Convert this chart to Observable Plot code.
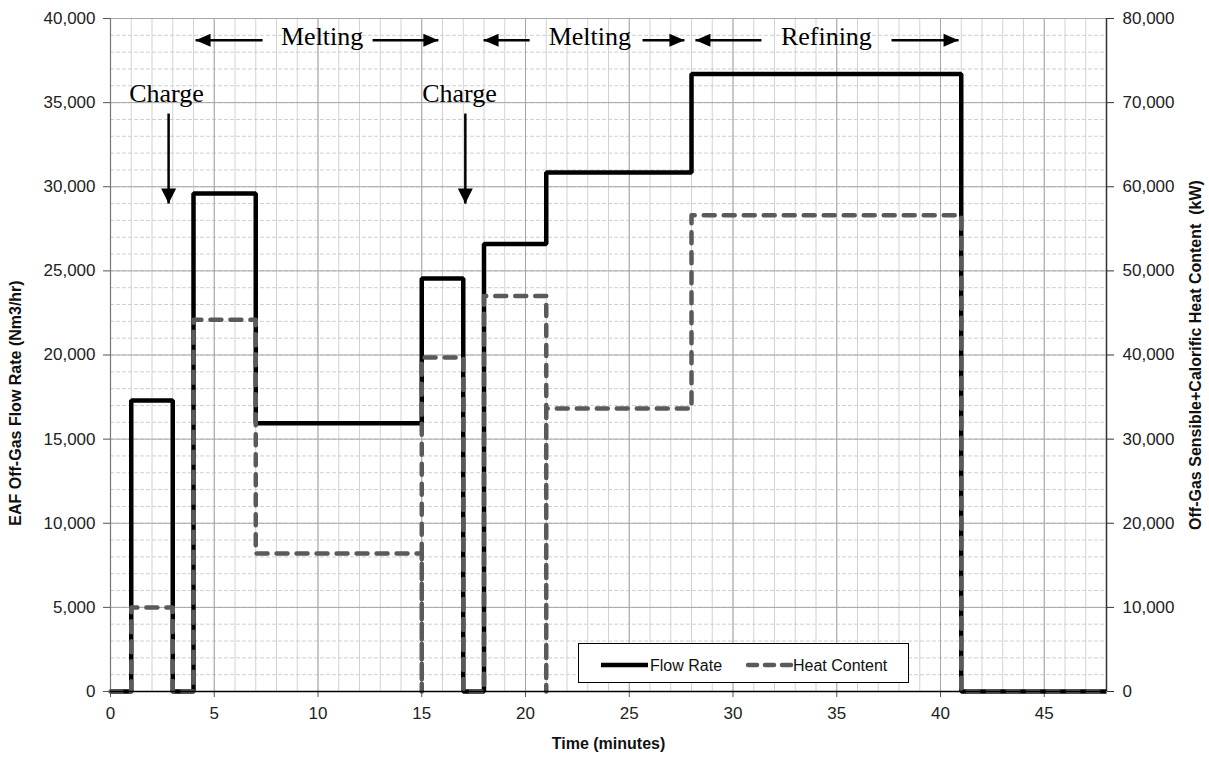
<!DOCTYPE html>
<html>
<head>
<meta charset="utf-8">
<script src="https://cdn.jsdelivr.net/npm/d3@7"></script>
<script src="https://cdn.jsdelivr.net/npm/@observablehq/plot@0.6"></script>
<style>
  html, body { margin: 0; padding: 0; background: #fff; }
  #wrap { position: relative; width: 1209px; height: 758px; overflow: hidden; }
  #legend { position: absolute; left: 578px; top: 643px; width: 331px; height: 40px;
            border: 1px solid #000; background: #fff; box-sizing: border-box;
            font-family: "Liberation Sans", Arial, sans-serif; font-size: 16px; color: #111; }
  #legend svg { position: absolute; left: 0; top: 0; }
</style>
</head>
<body>
<div id="wrap"><div id="chart"></div><div id="legend"></div></div>
<script>
// ---- data ----
const timeFlow = [0, 1, 1, 3, 3, 4, 4, 7, 7, 15, 15, 17, 17, 18, 18, 21, 21, 28, 28, 41, 41, 48];
const flowRate = [0, 0, 17300, 17300, 0, 0, 29600, 29600, 15950, 15950, 24550, 24550, 0, 0, 26600, 26600, 30850, 30850, 36700, 36700, 0, 0];
const timeHeat = [0, 1, 1, 3, 3, 4, 4, 7, 7, 15, 15, 15, 17, 17, 18, 18, 21, 21, 21, 28, 28, 41, 41, 48];
const heatContent = [0, 0, 10000, 10000, 0, 0, 44200, 44200, 16400, 16400, 0, 39700, 39700, 0, 0, 47000, 47000, 0, 33650, 33650, 56600, 56600, 0, 0];

const xTicks = [0, 5, 10, 15, 20, 25, 30, 35, 40, 45];
const yLeftTicks = [0, 5000, 10000, 15000, 20000, 25000, 30000, 35000, 40000];
const yRightTicks = [0, 10000, 20000, 30000, 40000, 50000, 60000, 70000, 80000];

// annotations (data coordinates)
const phaseText = ["Melting", "Melting", "Refining"];
const phaseX = [10.2, 23.1, 34.5];
const phaseY = 38900;
const arrowTail = [7.33, 12.63, 20.2, 25.64, 31.37, 37.64];
const arrowTip = [4.1, 15.8, 17.98, 27.66, 28.19, 40.87];
const arrowY = 38700;
const chargeText = ["Charge", "Charge"];
const chargeTextX = [2.7, 16.82];
const chargeTextY = 35550;
const chargeArrowX = [2.8, 17.1];
const chargeArrowTop = 34350;
const chargeArrowTip = 29000;

// ---- derived tables ----
const flowData = timeFlow.map((t, i) => ({t, v: flowRate[i]}));
const heatData = timeHeat.map((t, i) => ({t, v: heatContent[i] / 2})); // right axis = 2 x left axis
const phases = phaseText.map((s, i) => ({s, x: phaseX[i]}));
const hArrows = arrowTail.map((a, i) => ({a, b: arrowTip[i], right: arrowTip[i] > a}));
const charges = chargeText.map((s, i) => ({s, x: chargeTextX[i], ax: chargeArrowX[i]}));

const headRight = {draw(c) { c.moveTo(0, 0); c.lineTo(-15, -6.5); c.lineTo(-15, 6.5); c.closePath(); }};
const headLeft = {draw(c) { c.moveTo(0, 0); c.lineTo(15, -6.5); c.lineTo(15, 6.5); c.closePath(); }};
const headDown = {draw(c) { c.moveTo(0, 0); c.lineTo(-7.5, -15); c.lineTo(7.5, -15); c.closePath(); }};

const fmt = d3.format(",");
const minorX = d3.range(0, 49, 1);
const minorY = d3.range(0, 40001, 1000);

const chart = Plot.plot({
  width: 1209,
  height: 758,
  marginLeft: 110,
  marginRight: 103,
  marginTop: 18,
  marginBottom: 67,
  x: {domain: [0, 48]},
  y: {domain: [0, 40000]},
  style: {fontFamily: "'Liberation Sans', Arial, sans-serif", fontSize: "17px", color: "#222", background: "#fff"},
  marks: [
    Plot.gridX(minorX, {stroke: "#d2d2d2", strokeOpacity: 1, strokeWidth: 1}),
    Plot.gridY(minorY, {stroke: "#cfcfcf", strokeOpacity: 1, strokeWidth: 1, strokeDasharray: "4,2"}),
    Plot.gridX(xTicks, {stroke: "#a6a6a6", strokeOpacity: 1, strokeWidth: 1}),
    Plot.gridY(yLeftTicks, {stroke: "#a6a6a6", strokeOpacity: 1, strokeWidth: 1}),
    Plot.ruleX([0], {stroke: "#777", strokeWidth: 1.2}),
    Plot.ruleX([48], {stroke: "#333", strokeWidth: 1.5}),
    Plot.axisX({ticks: xTicks, tickFormat: d => d, tickSize: 6, tickPadding: 9, label: null, stroke: "#555", fill: "#222"}),
    Plot.axisY({anchor: "left", ticks: yLeftTicks, tickFormat: fmt, tickSize: 7, tickPadding: 8, label: null, stroke: "#555", fill: "#222"}),
    Plot.axisY({anchor: "right", ticks: yLeftTicks, tickFormat: (d, i) => fmt(yRightTicks[i]), tickSize: 7, tickPadding: 9, label: null, stroke: "#333", fill: "#222"}),
    // series
    Plot.line(flowData, {x: "t", y: "v", stroke: "#000", strokeWidth: 4.5, strokeLinejoin: "miter", strokeLinecap: "butt", curve: "linear"}),
    Plot.line(heatData, {x: "t", y: "v", stroke: "#5a5a5a", strokeWidth: 4.5, strokeDasharray: "11,9", strokeLinecap: "round", strokeLinejoin: "round", curve: "linear"}),
    Plot.ruleY([0], {stroke: "#000", strokeWidth: 1.3}),
    // annotations
    Plot.text(phases, {x: "x", y: () => phaseY, text: "s", fontFamily: "'Liberation Serif', 'Times New Roman', serif", fontSize: 26, fill: "#000", lineAnchor: "middle"}),
    Plot.link(hArrows, {x1: "a", x2: "b", y1: () => arrowY, y2: () => arrowY, stroke: "#000", strokeWidth: 2.5}),
    Plot.dot(hArrows.filter(d => d.right), {x: "b", y: () => arrowY, symbol: headRight, fill: "#000", stroke: "none"}),
    Plot.dot(hArrows.filter(d => !d.right), {x: "b", y: () => arrowY, symbol: headLeft, fill: "#000", stroke: "none"}),
    Plot.text(charges, {x: "x", y: () => chargeTextY, text: "s", fontFamily: "'Liberation Serif', 'Times New Roman', serif", fontSize: 26, fill: "#000", lineAnchor: "middle"}),
    Plot.link(charges, {x1: "ax", x2: "ax", y1: () => chargeArrowTop, y2: () => chargeArrowTip, stroke: "#000", strokeWidth: 2.5}),
    Plot.dot(charges, {x: "ax", y: () => chargeArrowTip, symbol: headDown, fill: "#000", stroke: "none"}),
    // axis titles
    Plot.text(["EAF Off-Gas Flow Rate (Nm3/hr)"], {frameAnchor: "left", textAnchor: "middle", dx: -95, dy: 48, rotate: -90, fontWeight: "bold", fontSize: 16, fill: "#111"}),
    Plot.text(["Off-Gas Sensible+Calorific Heat Content  (kW)"], {frameAnchor: "right", textAnchor: "middle", dx: 89, dy: 0, rotate: -90, fontWeight: "bold", fontSize: 16, fill: "#111"}),
    Plot.text(["Time (minutes)"], {frameAnchor: "bottom", dy: 57, fontWeight: "bold", fontSize: 16, fill: "#111"})
  ]
});
document.getElementById("chart").appendChild(chart);

// legend
const legend = document.getElementById("legend");
legend.innerHTML = `
<svg width="331" height="40">
  <line x1="22" y1="21" x2="69" y2="21" stroke="#000" stroke-width="4.5"/>
  <text x="71" y="27" font-family="Liberation Sans, Arial, sans-serif" font-size="16" fill="#111">Flow Rate</text>
  <line x1="169" y1="21" x2="213" y2="21" stroke="#5a5a5a" stroke-width="4.5" stroke-dasharray="9,8" stroke-linecap="round"/>
  <text x="214" y="27" font-family="Liberation Sans, Arial, sans-serif" font-size="16" fill="#111">Heat Content</text>
</svg>`;
</script>
</body>
</html>
